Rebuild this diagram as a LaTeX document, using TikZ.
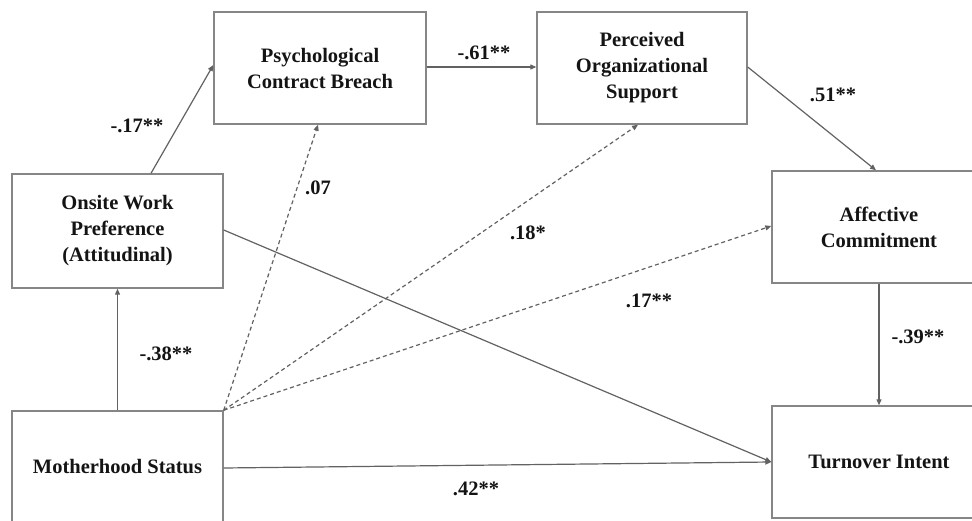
\documentclass[tikz,border=0pt]{standalone}
\usepackage{fontspec}
\setmainfont{Liberation Serif}
\usetikzlibrary{arrows.meta,calc}
\begin{document}
\begin{tikzpicture}[x=1pt,y=-1pt,
  box/.style={draw=boxgray,line width=1.4pt,rectangle,inner sep=0pt,
    minimum width=#1,minimum height=112pt,align=center,
    font=\fontsize{20.5}{26}\selectfont\bfseries,text=txt},
  box/.default=212pt,
  path/.style={draw=linegray,line width=1.2pt,
    -{Triangle[length=6pt,width=5pt]}},
  nsig/.style={path,dash pattern=on 4pt off 3pt},
  coef/.style={inner sep=0pt,font=\fontsize{20.5}{24}\selectfont\bfseries,text=txt}]
\definecolor{boxgray}{HTML}{868686}
\definecolor{linegray}{HTML}{626262}
\definecolor{txt}{HTML}{141414}
\useasboundingbox (0,0) rectangle (972,521);
\clip (0,0) rectangle (972,521);
\fill[white] (0,0) rectangle (972,521);

% constructs
\node[box=212pt] (pcb) at (320,68) {Psychological\\Contract Breach};
\node[box=210pt] (pos) at (642,68) {Perceived\\Organizational\\Support};
\node[box=211pt,minimum height=114pt] (ows) at (117.5,231) {Onsite Work\\Preference\\(Attitudinal)};
\node[box=211pt] (ms) at (117.5,467) {Motherhood Status};
\node[box=214pt] (ac) at (879,227) {Affective\\Commitment};
\node[box=214pt] (ti) at (879,462) {Turnover Intent};

% significant paths
\draw[path] ([xshift=33.5pt]ows.north) -- ([yshift=3pt]pcb.west);
\draw[path] ([yshift=1pt]pcb.east) -- ([yshift=1pt]pos.west);
\draw[path] ([yshift=1pt]pos.east) -- ([xshift=-3pt]ac.north);
\draw[path] (ac.south) -- (ti.north);
\draw[path] (ms.north) -- (ows.south);
\draw[path] ([yshift=-1pt]ms.east) -- (ti.west);
\draw[path] ([yshift=1pt]ows.east) -- (ti.west);

% paths from motherhood status (dashed)
\draw[nsig] (ms.north east) -- ([xshift=-2pt]pcb.south);
\draw[nsig] (ms.north east) -- ([xshift=-4pt]pos.south);
\draw[nsig] (ms.north east) -- ([yshift=1pt]ac.west);

% coefficients
\node[coef] (c1) at (137,126) {-.17**};
\node[coef] (c2) at (318,188) {.07};
\node[coef] (c3) at (484,53) {-.61**};
\node[coef] (c4) at (833,95) {.51**};
\node[coef] (c5) at (528,233) {.18*};
\node[coef] (c6) at (649,301) {.17**};
\node[coef] (c7) at (166,354) {-.38**};
\node[coef] (c8) at (918,337) {-.39**};
\node[coef] (c9) at (476,489) {.42**};
\end{tikzpicture}
\end{document}
